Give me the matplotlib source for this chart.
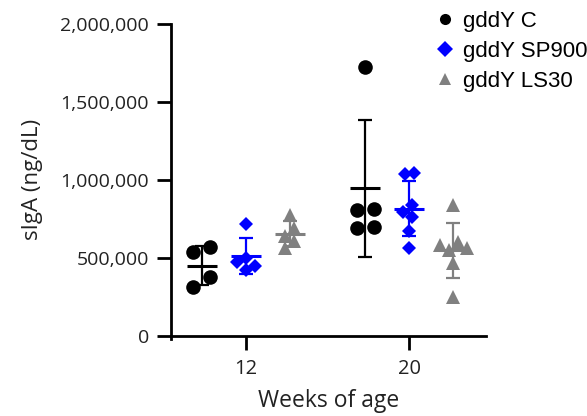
import numpy as np
import matplotlib
matplotlib.use("Agg")
import matplotlib.pyplot as plt
from matplotlib.ticker import FuncFormatter

# sIgA (ng/dL), values
weeks = ["12", "20"]
groups = ["gddY C", "gddY SP900", "gddY LS30"]
colors = ["black", "#0000ff", "#808080"]
markers = ["o", "D", "^"]

c_12 = [537000, 569000, 376000, 312000]
c_20 = [1727000, 807000, 813000, 691000, 698000]
sp_12 = [717000, 500000, 470000, 445000, 425000]
sp_20 = [1045000, 1040000, 839000, 794000, 762000, 672000, 563000]
ls_12 = [775000, 690000, 640000, 610000, 563000]
ls_20 = [839000, 600000, 580000, 560000, 550000, 466000, 248000]

data = {
    "gddY C": [c_12, c_20],
    "gddY SP900": [sp_12, sp_20],
    "gddY LS30": [ls_12, ls_20],
}

plt.rcParams["font.family"] = ["Open Sans", "DejaVu Sans"]

fig = plt.figure(figsize=(5.87, 4.16), dpi=100)
ax = fig.add_axes([0.2913, 0.193, 0.5366, 0.749])
ax.set_xlim(0.543, 2.469)
ax.set_ylim(0, 2000000)

offs = [-0.27, 0.0, 0.27]
msize = {"o": 10.5, "D": 7.5, "^": 9.5}
steps = {"o": 17, "D": 9, "^": 9}
diams = {"o": 13, "D": 9, "^": 10}


def swarm(xc, vals, ax, diam, step_px):
    # simple beeswarm: spread overlapping points, then centre each cluster
    px = ax.transData.transform((1, 0))[0] - ax.transData.transform((0, 0))[0]
    step = step_px / px
    order = np.argsort(vals)[::-1]
    xs = np.zeros(len(vals))
    placed = []
    for i in order:
        best = 0.0
        for dx in [0.0, -step, step, -2 * step, 2 * step]:
            p = ax.transData.transform((xc + dx, vals[i]))
            if all(np.hypot(*(p - q)) >= diam for q in placed):
                best = dx
                break
        xs[i] = best
        placed.append(ax.transData.transform((xc + best, vals[i])))
    # clusters of neighbours closer than diam vertically
    ypx = [ax.transData.transform((0, vals[i]))[1] for i in order]
    clusters, cur = [], [order[0]]
    for k in range(1, len(order)):
        if abs(ypx[k] - ypx[k - 1]) < diam:
            cur.append(order[k])
        else:
            clusters.append(cur)
            cur = [order[k]]
    clusters.append(cur)
    for cl in clusters:
        xs[cl] -= xs[cl].mean()
    return xc + xs


for gi, g in enumerate(groups):
    mk = markers[gi]
    for wi, vals in enumerate(data[g]):
        xc = wi + 1 + offs[gi]
        vals = np.array(vals, dtype=float)
        xs = swarm(xc, vals, ax, diam=diams[mk], step_px=steps[mk])
        ax.plot(xs, vals, linestyle="none", marker=mk,
                color=colors[gi], markersize=msize[mk],
                markeredgewidth=0, zorder=3,
                label=g if wi == 0 else None)
        m = vals.mean()
        sd = vals.std(ddof=1)
        ax.errorbar(xc, m, yerr=sd, color=colors[gi], capsize=5,
                    elinewidth=1.6, capthick=1.6, zorder=4)
        ax.hlines(m, xc - 0.092, xc + 0.092, color=colors[gi], lw=2.2,
                  zorder=4)

ax.spines["top"].set_visible(False)
ax.spines["right"].set_visible(False)
ax.spines["left"].set_linewidth(2)
ax.spines["bottom"].set_linewidth(2)
ax.spines["left"].set_bounds(-20000, 2000000)

ax.set_xticks([1, 2])
ax.set_xticklabels(weeks)
ax.set_yticks([0, 500000, 1000000, 1500000, 2000000])
ax.yaxis.set_major_formatter(FuncFormatter(lambda v, p: f"{int(v):,}"))
ax.tick_params(axis="both", width=2, length=10, labelsize=14,
               labelcolor="#222222", pad=6)
ax.tick_params(axis="x", labelsize=14.5, pad=7)

ax.set_xlabel("Weeks of age", fontsize=16.5, color="#222222", labelpad=7)
ax.set_ylabel("sIgA (ng/dL)", fontsize=16, color="#222222", labelpad=12)

leg = fig.legend(loc="upper left", bbox_to_anchor=(434 / 587, 1 - 11 / 416),
                 frameon=False,
                 prop={"family": "Liberation Sans", "size": 16},
                 handletextpad=0.3, labelspacing=0.4, borderaxespad=0,
                 borderpad=0, handlelength=1.0)
for h in leg.legend_handles:
    h.set_markersize(8)

fig.savefig("out.png", dpi=100)
